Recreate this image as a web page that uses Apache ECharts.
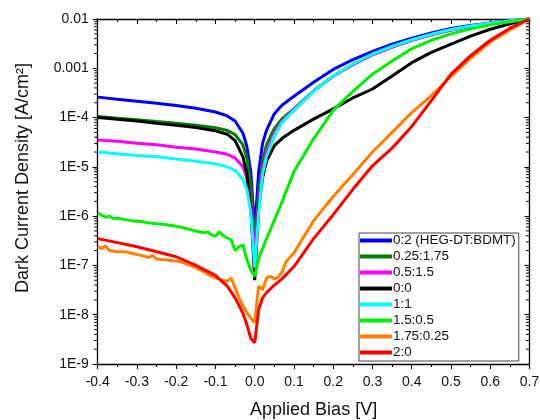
<!DOCTYPE html>
<html>
<head>
<meta charset="utf-8">
<script src="https://cdn.jsdelivr.net/npm/echarts@6/dist/echarts.min.js"></script>
<style>html,body{margin:0;padding:0;background:#fff}#c{width:540px;height:420px}</style>
</head>
<body>
<div id="c"></div>
<script>
// Shared bias grid for the smooth curves
var bias = [-0.4,-0.35,-0.3,-0.25,-0.2,-0.15,-0.1,-0.07,-0.05,-0.03,-0.02,-0.01,0,0.01,0.02,0.03,0.05,0.07,0.1,0.15,0.2,0.25,0.3,0.35,0.4,0.45,0.5,0.55,0.6,0.65,0.7];
var s02 = [2.6e-4,2.35e-4,2.15e-4,1.95e-4,1.75e-4,1.55e-4,1.3e-4,1.08e-4,8.5e-5,4.8e-5,2.6e-5,8e-6,5e-7,8e-6,3e-5,5.5e-5,1.2e-4,1.8e-4,2.7e-4,5.2e-4,9.5e-4,1.5e-3,2.2e-3,3.1e-3,4.1e-3,5.2e-3,6.4e-3,7.4e-3,8.3e-3,9.2e-3,1e-2];
var s025 = [1.05e-4,9.7e-5,9e-5,8.3e-5,7.7e-5,7e-5,6.2e-5,5.5e-5,4.5e-5,2.8e-5,1.5e-5,4e-6,3e-7,3e-6,1.3e-5,2.8e-5,6e-5,9.5e-5,1.5e-4,3.5e-4,7e-4,1.2e-3,1.9e-3,2.7e-3,3.7e-3,4.8e-3,6e-3,7.1e-3,8.1e-3,9.1e-3,1e-2];
var s05 = [3.5e-5,3.3e-5,3e-5,2.8e-5,2.5e-5,2.3e-5,2e-5,1.8e-5,1.5e-5,1e-5,6e-6,2e-6,2e-7,1.8e-6,9e-6,2e-5,4.8e-5,8.5e-5,1.45e-4,3.4e-4,6.9e-4,1.18e-3,1.88e-3,2.7e-3,3.7e-3,4.8e-3,6e-3,7.1e-3,8.1e-3,9.1e-3,1e-2];
var s00 = [1.0e-4,9.2e-5,8.5e-5,7.7e-5,7e-5,6.3e-5,5.4e-5,4.6e-5,3.4e-5,1.6e-5,7e-6,1.5e-6,5e-8,1.5e-6,6e-6,1.3e-5,2.7e-5,3.8e-5,5.5e-5,9.3e-5,1.5e-4,2.5e-4,3.8e-4,7e-4,1.3e-3,2.1e-3,3.1e-3,4.5e-3,6.2e-3,8e-3,1e-2];
var s11 = [2e-5,1.85e-5,1.7e-5,1.6e-5,1.45e-5,1.3e-5,1.15e-5,1e-5,8.5e-6,5.5e-6,3.5e-6,1.2e-6,9e-8,1.2e-6,7e-6,1.6e-5,4.2e-5,8e-5,1.4e-4,3.4e-4,7e-4,1.22e-3,1.95e-3,2.8e-3,3.8e-3,4.9e-3,6.1e-3,7.2e-3,8.2e-3,9.1e-3,1e-2];
var s20 = [3.5e-7,2.9e-7,2.4e-7,1.9e-7,1.5e-7,1e-7,6.3e-8,3.8e-8,2.2e-8,1.07e-8,6.3e-9,3.3e-9,2.7e-9,1.26e-8,2.2e-8,2.8e-8,4e-8,5.4e-8,9.5e-8,3.5e-7,1.07e-6,3.5e-6,1.05e-5,2.4e-5,6.6e-5,2.2e-4,7.6e-4,1.8e-3,3.7e-3,6.5e-3,1e-2];
// Noisier curves with their own bias points
var biasG = [-0.4,-0.39,-0.38,-0.37,-0.36,-0.35,-0.33,-0.31,-0.29,-0.27,-0.25,-0.23,-0.21,-0.19,-0.17,-0.15,-0.13,-0.12,-0.11,-0.1,-0.09,-0.08,-0.07,-0.06,-0.05,-0.04,-0.03,-0.02,-0.01,0,0.01,0.02,0.03,0.05,0.07,0.1,0.15,0.2,0.25,0.3,0.35,0.4,0.45,0.5,0.55,0.6,0.65,0.7];
var s1505 = [1.15e-6,1.05e-6,9.5e-7,1.0e-6,8.8e-7,9.2e-7,8.5e-7,8.0e-7,7.8e-7,7.3e-7,7.0e-7,6.8e-7,6.4e-7,6.0e-7,5.5e-7,5.0e-7,4.6e-7,4.8e-7,4.2e-7,3.9e-7,4.8e-7,4.0e-7,3.6e-7,3.3e-7,2.0e-7,2.4e-7,2.6e-7,1.3e-7,8e-8,6e-8,1.4e-7,2.2e-7,3.5e-7,8.3e-7,2e-6,8e-6,3.7e-5,1.4e-4,3.4e-4,7.6e-4,1.4e-3,2.5e-3,3.7e-3,5e-3,6.3e-3,7.6e-3,8.8e-3,1e-2];
var biasO = [-0.4,-0.39,-0.38,-0.37,-0.35,-0.33,-0.31,-0.29,-0.27,-0.26,-0.25,-0.23,-0.21,-0.19,-0.17,-0.15,-0.13,-0.11,-0.09,-0.07,-0.06,-0.05,-0.04,-0.03,-0.02,-0.01,0,0.01,0.02,0.03,0.04,0.05,0.06,0.07,0.08,0.1,0.12,0.15,0.2,0.25,0.3,0.35,0.4,0.45,0.5,0.55,0.6,0.65,0.7];
var s175 = [2.4e-7,2.2e-7,2.5e-7,2.0e-7,1.9e-7,1.9e-7,1.75e-7,1.6e-7,1.45e-7,1.6e-7,1.35e-7,1.3e-7,1.25e-7,1.2e-7,1.05e-7,9e-8,7.5e-8,6e-8,5.2e-8,4.8e-8,5.5e-8,3.5e-8,2.2e-8,1.5e-8,1.1e-8,8.5e-9,7e-9,3.8e-8,3.2e-8,5.5e-8,6e-8,5.3e-8,5.8e-8,7.5e-8,1.2e-7,1.8e-7,3.3e-7,8e-7,2.5e-6,7e-6,2e-5,5e-5,1.26e-4,2.8e-4,6.8e-4,1.6e-3,3.4e-3,6e-3,1e-2];

var names = ['0:2 (HEG-DT:BDMT)','0.25:1.75','0.5:1.5','0:0','1:1','1.5:0.5','1.75:0.25','2:0'];
var colors = ['#0000ff','#007f00','#ff00ff','#000000','#00ffff','#00ee00','#ff8000','#ff0000'];
var xTicks = {min:-0.4, max:0.7, interval:0.1};
var yRange = {min:1e-9, max:1e-2};
// log-axis minor tick positions (2..9 within each decade)
var minorMult = [2,3,4,5,6,7,8,9];
var decades = [-9,-8,-7,-6,-5,-4,-3];

function pairs(xs, ys){ return xs.map(function(x,i){ return [x, ys[i]]; }); }
var seriesData = [pairs(bias,s02),pairs(bias,s025),pairs(bias,s05),pairs(bias,s00),pairs(bias,s11),pairs(biasG,s1505),pairs(biasO,s175),pairs(bias,s20)];
var minorVals = [];
decades.forEach(function(e){ minorMult.forEach(function(m){ minorVals.push([xTicks.min, m*Math.pow(10,e)]); }); });

var font = 'Liberation Sans, Arial, sans-serif';
var chart = echarts.init(document.getElementById('c'), null, {renderer:'canvas'});
function xFmt(v){ if (Math.abs(v) < 1e-9) return '0.0'; return v.toFixed(1); }
function yFmt(v){ var e = Math.round(Math.log10(v)); if (e >= -3) return String(Math.pow(10,e).toFixed(-e)); return '1E' + e; }
var tickStyle = {color:'#000', width:1.1};
var series = names.map(function(n,i){
  return {
    name:n, type:'line', xAxisIndex:0, yAxisIndex:0, data:seriesData[i],
    showSymbol:false, symbol:'none', smooth:false,
    lineStyle:{color:colors[i], width:3}, itemStyle:{color:colors[i]},
    clip:true, z:3
  };
});
series.push({
  type:'custom', name:'minorTicks', xAxisIndex:0, yAxisIndex:0, data:minorVals, clip:false, z:5, silent:true,
  encode:{x:0, y:1},
  renderItem:function(params, api){
    var v = api.value(1);
    var pL = api.coord([xTicks.min, v]);
    var pR = api.coord([xTicks.max, v]);
    return {type:'group', children:[
      {type:'line', shape:{x1:pL[0]-3.5, y1:pL[1], x2:pL[0], y2:pL[1]}, style:{stroke:'#000', lineWidth:1}},
      {type:'line', shape:{x1:pR[0]-3.5, y1:pR[1], x2:pR[0], y2:pR[1]}, style:{stroke:'#000', lineWidth:1}}
    ]};
  }
});
chart.setOption({
  animation:false,
  backgroundColor:'#fff',
  grid:{left:97.7, right:10.5, top:19, bottom:56, containLabel:false, outerBoundsMode:'none'},
  legend:{
    orient:'vertical', left:359, top:233,
    padding:[1,3,2,1], itemGap:3, itemWidth:32, itemHeight:4, icon:'rect',
    backgroundColor:'#fff', borderColor:'#444', borderWidth:1,
    textStyle:{fontFamily:font, fontSize:13.4, color:'#111', lineHeight:13, padding:[0,0,0,-4]},
    data:names
  },
  xAxis:[{
    type:'value', min:xTicks.min, max:xTicks.max, interval:xTicks.interval,
    name:'Applied Bias [V]', nameLocation:'middle', nameGap:37,
    nameTextStyle:{fontFamily:font, fontSize:18, color:'#111'},
    axisLine:{onZero:false, lineStyle:{color:'#000', width:1.3}},
    axisTick:{inside:false, length:5, lineStyle:tickStyle},
    minorTick:{show:true, splitNumber:2, length:3, lineStyle:tickStyle},
    axisLabel:{fontFamily:font, fontSize:14, color:'#111', margin:11, formatter:xFmt},
    splitLine:{show:false}
  },{
    type:'value', position:'top', min:xTicks.min, max:xTicks.max, interval:xTicks.interval,
    axisLine:{show:true, onZero:false, lineStyle:{color:'#000', width:1.3}},
    axisTick:{inside:true, length:5, lineStyle:tickStyle},
    minorTick:{show:true, splitNumber:2, length:3, lineStyle:tickStyle},
    axisLabel:{show:false}, splitLine:{show:false}
  }],
  yAxis:[{
    type:'log', logBase:10, min:yRange.min, max:yRange.max, splitNumber:7,
    name:'Dark Current Density [A/cm\u00B2]', nameLocation:'middle', nameGap:66,
    nameTextStyle:{fontFamily:font, fontSize:18, color:'#111', padding:[0,0,0,27]},
    axisLine:{show:true, onZero:false, lineStyle:{color:'#000', width:1.3}},
    axisTick:{inside:false, length:5, lineStyle:tickStyle},
    minorTick:{show:false},
    axisLabel:{fontFamily:font, fontSize:14, color:'#111', margin:9, formatter:yFmt},
    splitLine:{show:false}
  },{
    type:'log', logBase:10, min:yRange.min, max:yRange.max, splitNumber:7, position:'right',
    axisLine:{show:true, onZero:false, lineStyle:{color:'#000', width:1.3}},
    axisTick:{inside:true, length:5, lineStyle:tickStyle},
    minorTick:{show:false},
    axisLabel:{show:false}, splitLine:{show:false}
  }],
  series: series
});
</script>
</body>
</html>
